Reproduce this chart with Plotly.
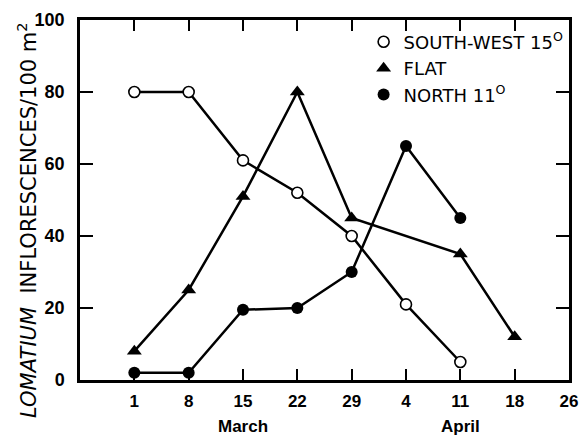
import plotly.graph_objects as go

# Sampling dates (March 1 .. April 26), plotted at equal spacing
dates = ["1", "8", "15", "22", "29", "4", "11", "18", "26"]
month_labels = ["March", "April"]
month_dates = ["15", "11"]

# Lomatium inflorescences per 100 m^2 on each slope
south_west = [80, 80, 61, 52, 40, 21, 5, None, None]
flat = [8, 25, 51, 80, 45, None, 35, 12, None]
north = [2, 2, 19.5, 20, 30, 65, 45, None, None]

series_names = ["SOUTH-WEST 15<sup>O</sup>", "FLAT", "NORTH 11<sup>O</sup>"]

x = list(range(len(dates)))
FONT = "Liberation Sans, Arial, sans-serif"
WIDE = "DejaVu Sans, sans-serif"

markers = [
    dict(symbol="circle", size=11, color="white", line=dict(color="black", width=1.6)),
    dict(symbol="triangle-up", size=13, color="black"),
    dict(symbol="circle", size=12, color="black"),
]

fig = go.Figure()
for values, m in zip([south_west, flat, north], markers):
    fig.add_trace(go.Scatter(
        x=x, y=values, mode="lines+markers", connectgaps=True,
        line=dict(color="black", width=2.5), marker=m,
        cliponaxis=False, showlegend=False,
    ))

# legend entries show the symbol only
for name, m in zip(series_names, markers):
    fig.add_trace(go.Scatter(
        x=[None], y=[None], mode="markers", name=name, marker=m, showlegend=True,
    ))

for label, d in zip(month_labels, month_dates):
    fig.add_annotation(
        x=dates.index(d), y=-0.129, xref="x", yref="paper",
        text=label, showarrow=False, yanchor="middle",
        font=dict(family=FONT, size=17, color="black", weight="bold"),
    )

fig.add_annotation(
    x=-0.108, y=0.445, xref="paper", yref="paper", textangle=-90,
    text="<i>LOMATIUM</i>&nbsp; INFLORESCENCES/100 m<sup>2</sup>", showarrow=False,
    xanchor="center", yanchor="middle",
    font=dict(family=WIDE, size=21, color="black"),
)

fig.update_xaxes(
    range=[-1, 8], tickvals=x, ticktext=dates,
    ticks="inside", ticklen=11, tickwidth=2.2, tickcolor="black",
    showline=True, linewidth=2.5, linecolor="black", mirror="ticks",
    showgrid=False, zeroline=False, ticklabelstandoff=4,
    tickfont=dict(family=FONT, size=17, color="black", weight="bold"),
)
fig.update_yaxes(
    range=[0, 100], tickvals=[0, 20, 40, 60, 80, 100],
    ticks="inside", ticklen=13, tickwidth=2.2, tickcolor="black",
    showline=True, linewidth=2.5, linecolor="black", mirror="ticks",
    showgrid=False, zeroline=False, ticklabelstandoff=9,
    tickfont=dict(family=FONT, size=18, color="black", weight="bold"),
)

fig.update_layout(
    width=588, height=436,
    margin=dict(l=80, r=10, t=15, b=56),
    paper_bgcolor="white", plot_bgcolor="white",
    showlegend=True,
    legend=dict(
        x=0.58, y=0.99, xanchor="left", yanchor="top",
        bgcolor="rgba(0,0,0,0)", borderwidth=0,
        font=dict(family=WIDE, size=18, color="black"),
        itemwidth=30, tracegroupgap=0,
    ),
)

fig.write_html("out.html")
